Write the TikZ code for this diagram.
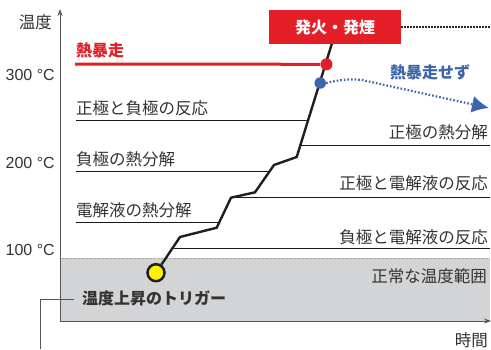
\documentclass[tikz,border=0pt]{standalone}
\usepackage{fontspec}
\setmainfont{Liberation Sans}
\newfontfamily\jp{Noto Sans CJK JP}
\usetikzlibrary{arrows.meta}
\definecolor{myred}{HTML}{E41E26}
\definecolor{myblue}{HTML}{3E64AC}
\definecolor{txt}{HTML}{333333}
\definecolor{grayfill}{HTML}{D3D4D6}
\definecolor{axisc}{HTML}{555555}
\begin{document}
\begin{tikzpicture}[x=1pt,y=-1pt,
  lbl/.style={font=\jp\fontsize{16.5}{18}\selectfont, text=txt, inner sep=0pt},
  blbl/.style={font=\jp\bfseries\fontsize{16}{18}\selectfont, inner sep=0pt},
  num/.style={font=\fontsize{16}{18}\selectfont, text=txt, inner sep=0pt},
  hline/.style={draw=black!90, line width=1pt},
  curve/.style={draw=black!88, line width=2.4pt, line join=miter},
  axisline/.style={draw=axisc, line width=1pt, -{Stealth[length=7pt,width=5pt]}},
  dotnode/.style={circle, inner sep=0pt, minimum size=12pt}
]
\useasboundingbox (0,0) rectangle (491,349);

% normal range
\fill[grayfill] (60,258) rectangle (490,321);
\draw[black!35, densely dotted, line width=0.6pt] (60,258) -- (490,258);

% axes
\coordinate (orig) at (60,321);
\coordinate (ytop) at (60,9);
\coordinate (xend) at (491,321);
\draw[axisline] (orig) -- (ytop);
\draw[axisline] (orig) -- (xend);
\node[lbl, anchor=east] (ylab) at (52,22.7) {温度};
\node[lbl, anchor=east] (xlab) at (488,340.5) {時間};

% temperature ticks
\node[num, anchor=east] (t300) at (55,75) {300 °C};
\node[num, anchor=east] (t200) at (55,163) {200 °C};
\node[num, anchor=east] (t100) at (55,250) {100 °C};

% reaction lines
\draw[hline] (76,120) -- (308.5,120);
\draw[hline] (76,171.3) -- (269.6,171.3);
\draw[hline] (76,222.3) -- (219.4,222.3);
\draw[hline] (300.4,145.3) -- (490,145.3);
\draw[hline] (231,197.3) -- (490,197.3);
\draw[hline] (172.6,248) -- (490,248);

\node[lbl, anchor=west] (l1) at (76,108.3) {正極と負極の反応};
\node[lbl, anchor=west] (l2) at (76,159.3) {負極の熱分解};
\node[lbl, anchor=west] (l3) at (76,210) {電解液の熱分解};
\node[lbl, anchor=east] (r1) at (488,132.7) {正極の熱分解};
\node[lbl, anchor=east] (r2) at (488,183.3) {正極と電解液の反応};
\node[lbl, anchor=east] (r3) at (488,236.8) {負極と電解液の反応};
\node[lbl, anchor=east] (r4) at (487,276) {正常な温度範囲};

% temperature curve
\node[circle, fill=yellow, draw=black!88, line width=2.5pt, minimum size=17pt, inner sep=0pt] (trig) at (156,272.7) {};
\coordinate (p1) at (180,237);
\coordinate (p2) at (216.7,227.7);
\coordinate (p3) at (231,197.7);
\coordinate (p4) at (255,192.3);
\coordinate (p5) at (274,165);
\coordinate (p6) at (296.7,157);
\coordinate (p7) at (333,40);
\draw[curve] (trig) -- (p1) -- (p2) -- (p3) -- (p4) -- (p5) -- (p6) -- (p7);

% thermal runaway
\node[dotnode, fill=myred] (rdot) at (326.5,64.3) {};
\node[dotnode, fill=myblue, minimum size=11.5pt] (bdot) at (320.2,83) {};
\coordinate (rstart) at (75,64);
\draw[myred, line width=3pt] (rstart) -- (rdot);
\node[blbl, text=myred, anchor=west] (runaway) at (76,50) {熱暴走};

% no runaway
\coordinate (bmid) at (362,80);
\coordinate (btip) at (489,108);
\draw[myblue, line width=2.2pt, dash pattern=on 1.6pt off 2pt, -{Latex[length=17pt,width=17pt]}]
  (bdot.east) .. controls (338,80) and (350,78.5) .. (bmid) -- (btip);
\node[blbl, text=myblue] (norun) at (430,72.7) {熱暴走せず};

% fire / smoke
\node[fill=myred, minimum width=132pt, minimum height=34pt, inner sep=0pt,
      blbl, text=white] (fire) at (335,27) {発火・発煙};
\coordinate (fend) at (491,27);
\draw[black!85, line width=2pt, dash pattern=on 1.6pt off 1.4pt] (fire.east) -- (fend);

% trigger label
\node[blbl, text=txt, anchor=west] (trigtxt) at (82,298.5) {温度上昇のトリガー};
\coordinate (bk1) at (74,299.3);
\coordinate (bk2) at (40,299.3);
\coordinate (bk3) at (40,349);
\draw[axisc, line width=1pt] (bk1) -- (bk2) -- (bk3);
\end{tikzpicture}
\end{document}
